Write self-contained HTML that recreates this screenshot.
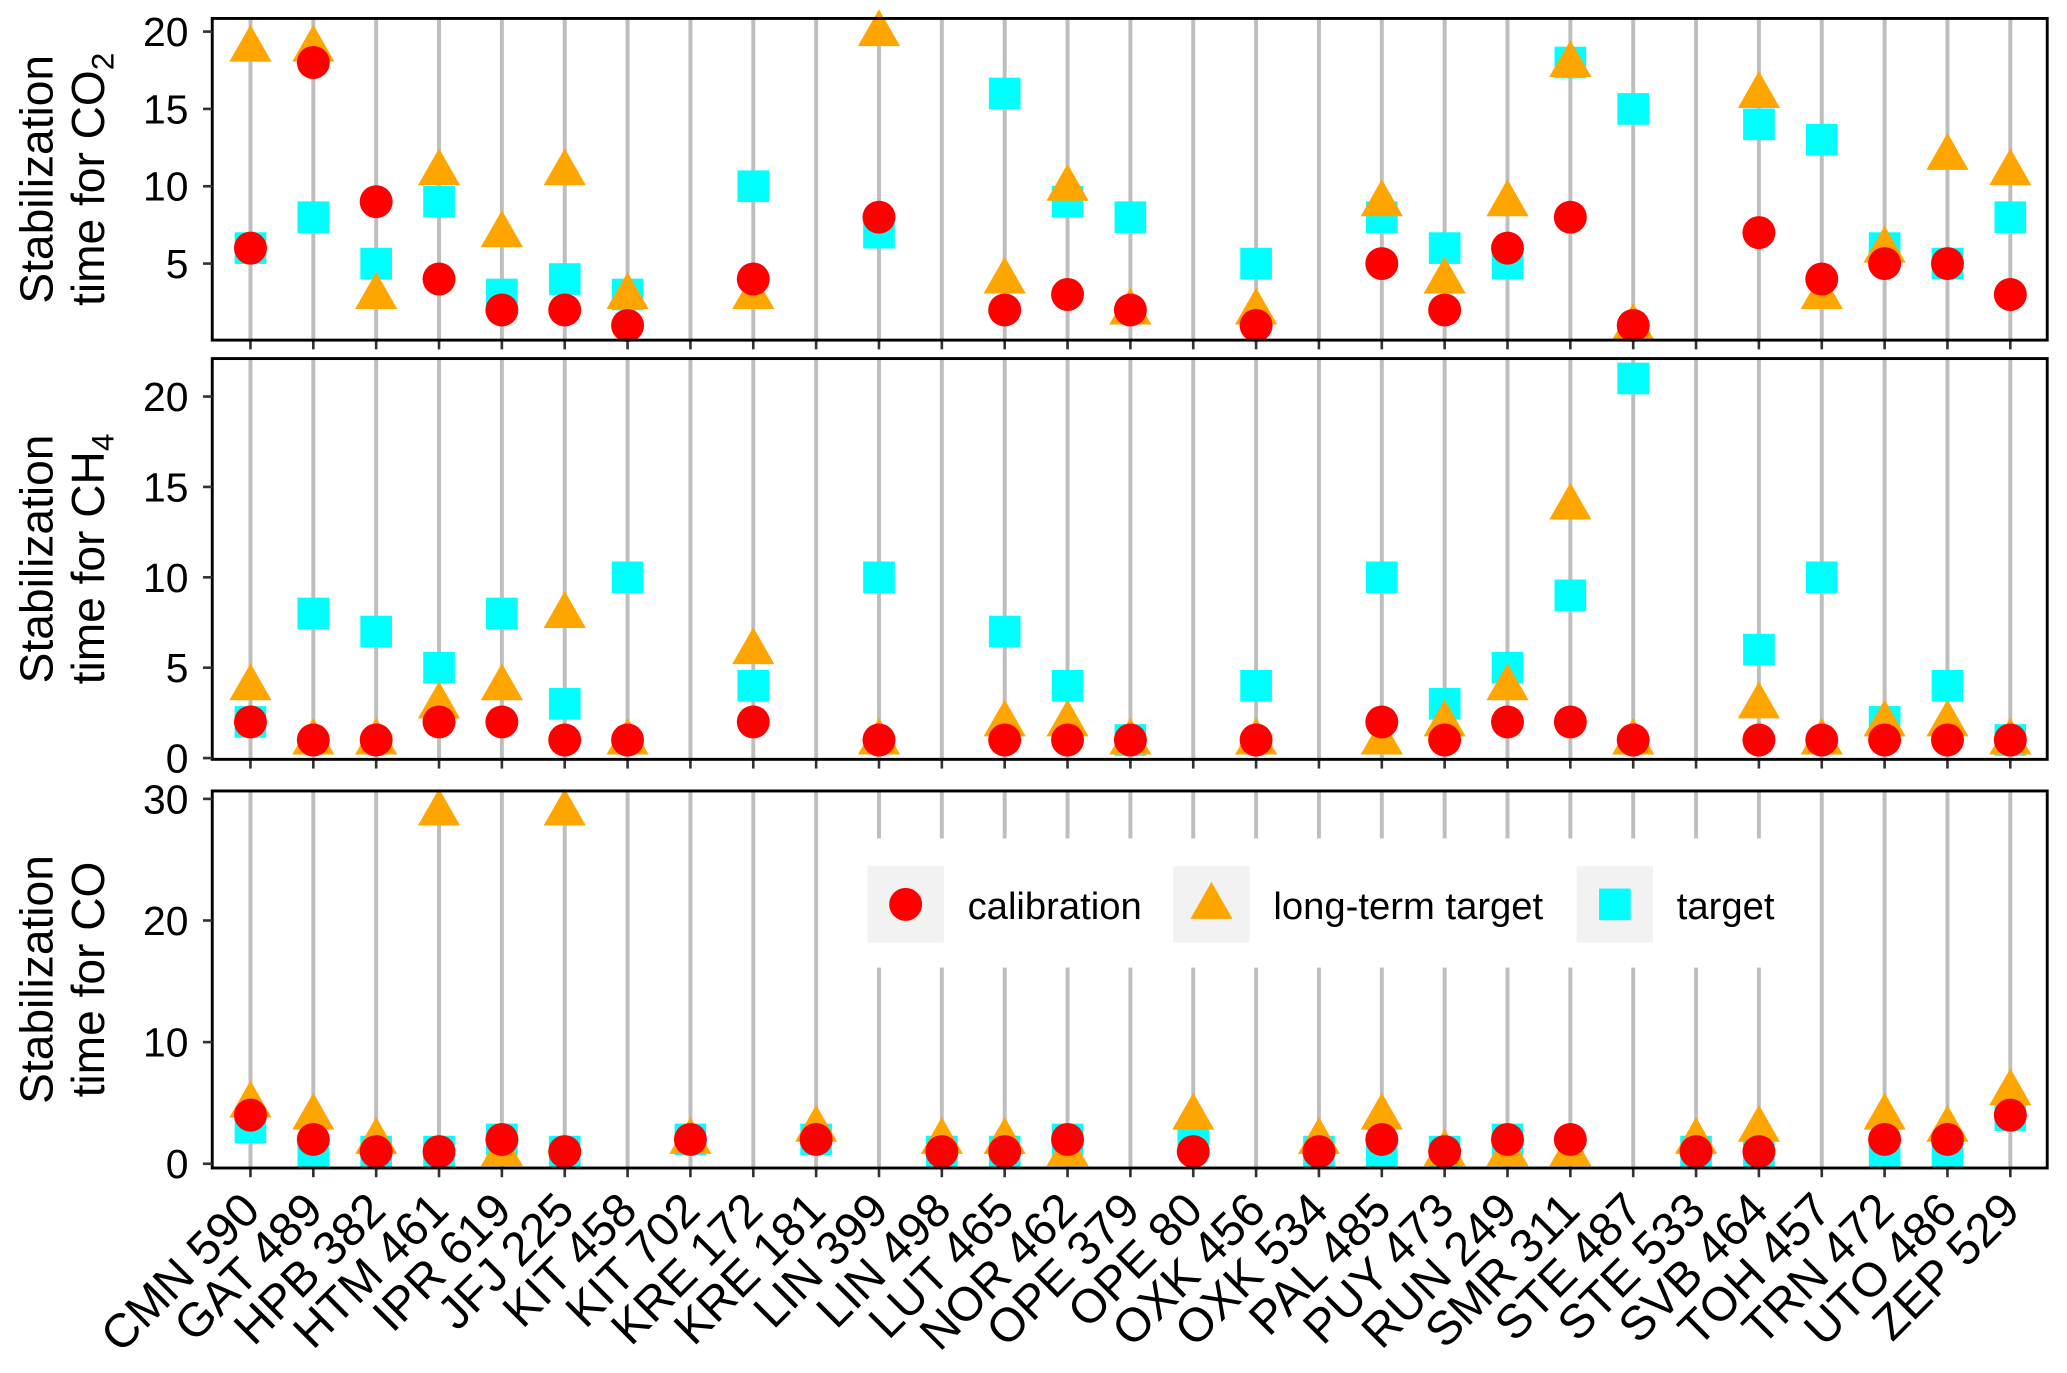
<!DOCTYPE html>
<html><head><meta charset="utf-8"><style>
html,body{margin:0;padding:0;background:#fff}
svg{display:block}
text{font-family:"Liberation Sans",Arial,sans-serif}
</style></head><body>
<svg id="chart" width="2067" height="1373" viewBox="0 0 1568 1041.5" preserveAspectRatio="none" xmlns="http://www.w3.org/2000/svg"></svg>
<script>
const stations = ["CMN 590","GAT 489","HPB 382","HTM 461","IPR 619","JFJ 225","KIT 458","KIT 702","KRE 172","KRE 181","LIN 399","LIN 498","LUT 465","NOR 462","OPE 379","OPE 80","OXK 456","OXK 534","PAL 485","PUY 473","RUN 249","SMR 311","STE 487","STE 533","SVB 464","TOH 457","TRN 472","UTO 486","ZEP 529"];
const co2Cal = [6,18,9,4,2,2,1,null,4,null,8,null,2,3,2,null,1,null,5,2,6,8,1,null,7,4,5,5,3];
const co2Lt  = [19,19,3,11,7,11,3,null,3,null,20,null,4,10,2,null,2,null,9,4,9,18,1,null,16,3,6,12,11];
const co2Tgt = [6,8,5,9,3,4,3,null,10,null,7,null,16,9,8,null,5,null,8,6,5,18,15,null,14,13,6,5,8];
const ch4Cal = [2,1,1,2,2,1,1,null,2,null,1,null,1,1,1,null,1,null,2,1,2,2,1,null,1,1,1,1,1];
const ch4Lt  = [4,1,1,3,4,8,1,null,6,null,1,null,2,2,1,null,1,null,1,2,4,14,1,null,3,1,2,2,1];
const ch4Tgt = [2,8,7,5,8,3,10,null,4,null,10,null,7,4,1,null,4,null,10,3,5,9,21,null,6,10,2,4,1];
const coCal  = [4,2,1,1,2,1,null,2,null,2,null,1,1,2,null,1,null,1,2,1,2,2,null,1,1,null,2,2,4];
const coLt   = [5,4,2,29,1,29,null,2,null,3,null,2,2,1,null,4,null,2,4,1,1,1,null,2,3,null,4,3,6];
const coTgt  = [3,1,1,1,2,1,null,2,null,2,null,1,1,2,null,2,null,1,1,1,2,null,null,1,1,null,1,1,4];
const co2Ticks=[5,10,15,20], ch4Ticks=[0,5,10,15,20], coTicks=[0,10,20,30];

const NS="http://www.w3.org/2000/svg";
const svg=document.getElementById('chart');
function mk(tag,attrs,parent){const e=document.createElementNS(NS,tag);for(const k in attrs)e.setAttribute(k,attrs[k]);(parent||svg).appendChild(e);return e;}
const X0=161,X1=1553;
const xs=i=>190+i*(1525-190)/(stations.length-1);

const panels=[
 {name:'co2',top:14,bot:258,dmin:0.05,dmax:20.85,ticks:co2Ticks,cal:co2Cal,lt:co2Lt,tgt:co2Tgt,sub:'2'},
 {name:'ch4',top:272,bot:576,dmin:-0.07,dmax:22.1,ticks:ch4Ticks,cal:ch4Cal,lt:ch4Lt,tgt:ch4Tgt,sub:'4'},
 {name:'co',top:600,bot:886,dmin:-0.35,dmax:30.65,ticks:coTicks,cal:coCal,lt:coLt,tgt:coTgt,sub:null}
];
panels.forEach((p,pi)=>{
  const g=mk('g',{});
  
  
  const ys=v=>p.bot-(v-p.dmin)/(p.dmax-p.dmin)*(p.bot-p.top);
  stations.forEach((s,i)=>{
    const l=mk('line',{x1:xs(i),x2:xs(i),y1:p.top,y2:p.bot,stroke:'#bebebe','stroke-width':3},g);
    
    
    const t=mk('line',{x1:xs(i),x2:xs(i),y1:p.bot,y2:p.bot+7,stroke:'#333','stroke-width':2},g);
    
    
  });
  if(pi===2){
    const lg=mk('g',{},g);
    
    
    mk('rect',{x:640,y:636,width:726,height:98,fill:'#fff'},lg);
    const items=[['calibration',658,'c'],['long-term target',890,'t'],['target',1196,'s']];
    items.forEach(([lab,x,sh])=>{
      const e=mk('g',{},lg);
      
      
      mk('rect',{x:x,y:657,width:58,height:58,fill:'#f2f2f2'},e);
      const cx=x+29,cy=686;
      if(sh==='c')mk('circle',{cx:cx,cy:cy,r:12.5,fill:'#ff0000'},e);
      if(sh==='t')mk('polygon',{points:`${cx},${cy-17} ${cx-16},${cy+11} ${cx+16},${cy+11}`,fill:'#ffa500'},e);
      if(sh==='s')mk('rect',{x:cx-12,y:cy-12,width:24,height:24,fill:'#00ffff'},e);
      const tx=mk('text',{x:x+76,y:697,'font-size':29,fill:'#000'},e);tx.textContent=lab;
    });
  }
  const mg=mk('g',{},g);
  p.tgt.forEach((v,i)=>{if(v==null)return;const r=mk('rect',{x:xs(i)-12,y:ys(v)-12,width:24,height:24,fill:'#00ffff'},mg);
    });
  p.lt.forEach((v,i)=>{if(v==null)return;const cx=xs(i),cy=ys(v);const r=mk('polygon',{points:`${cx},${cy-17} ${cx-16},${cy+11} ${cx+16},${cy+11}`,fill:'#ffa500'},mg);
    });
  p.cal.forEach((v,i)=>{if(v==null)return;const r=mk('circle',{cx:xs(i),cy:ys(v),r:12.5,fill:'#ff0000'},mg);
    });
  const bd=mk('rect',{x:X0,y:p.top,width:X1-X0,height:p.bot-p.top,fill:'none',stroke:'#000','stroke-width':2.2},g);
  
  
  p.ticks.forEach(t=>{
    const y=ys(t);
    mk('line',{x1:X0-7,x2:X0,y1:y,y2:y,stroke:'#333','stroke-width':2},g);
    const tx=mk('text',{x:X0-18,y:y+11,'font-size':31,'text-anchor':'end',fill:'#000'},g);
    
    
    tx.textContent=t;
  });
  const cy=(p.top+p.bot)/2;
  const tg=mk('g',{transform:`translate(0,${cy}) rotate(-90)`},g);
  
  
  const t1=mk('text',{x:0,y:40,'font-size':35,'text-anchor':'middle',fill:'#000'},tg);t1.textContent='Stabilization';
  const t2=mk('text',{x:0,y:79,'font-size':35,'text-anchor':'middle',fill:'#000'},tg);
  if(p.sub){t2.textContent=p.name==='co2'?'time for CO':'time for CH';const ts=mk('tspan',{'font-size':24,dy:7},t2);ts.textContent=p.sub;}
  else t2.textContent='time for CO';
});
stations.forEach((s,i)=>{
  const x=xs(i)+9,y=920;
  const t=mk('text',{x:x,y:y,'font-size':36,'text-anchor':'end',fill:'#000',transform:`rotate(-45 ${x} ${y})`});
  
  
  t.textContent=s;
});
</script>
</body></html>
